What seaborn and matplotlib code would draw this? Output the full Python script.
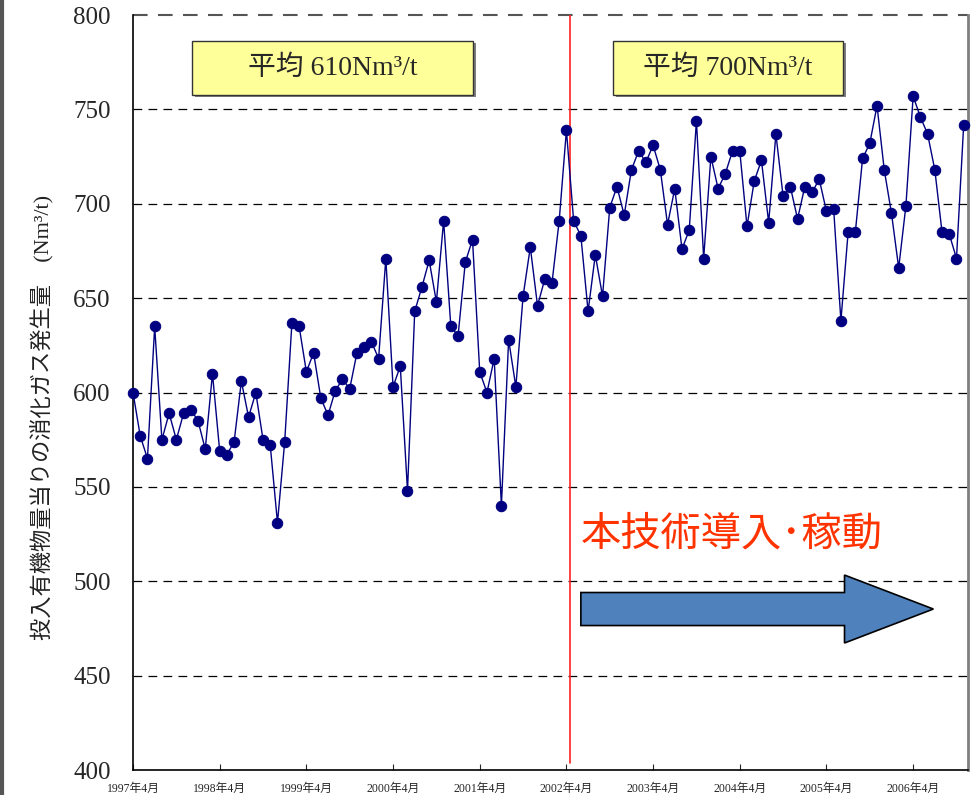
import numpy as np
import pandas as pd
import matplotlib
matplotlib.use("Agg")
import matplotlib.pyplot as plt
import matplotlib.patches as mpatches
from matplotlib.lines import Line2D
import seaborn as sns

# -----------------------------------------------------------------------------
# Data (monthly, 1997-04 .. 2006-11)
# -----------------------------------------------------------------------------
gas_per_organic = [
    600, 577, 565, 635, 575, 589, 575, 589, 591, 585, 570, 610,
    569, 567, 574, 606, 587, 600, 575, 572, 531, 574, 637, 635,
    611, 621, 597, 588, 601, 607, 602, 621, 624, 627, 618, 671,
    603, 614, 548, 643, 656, 670, 648, 691, 635, 630, 669, 681,
    611, 600, 618, 540, 628, 603, 651, 677, 646, 660, 658, 691,
    739, 691, 683, 643, 673, 651, 698, 709, 694, 718, 728, 722,
    731, 718, 689, 708, 676, 686, 744, 671, 725, 708, 716, 728,
    728, 688, 712, 723, 690, 737, 704, 709, 692, 709, 706, 713,
    696, 697, 638, 685, 685, 724, 732, 752, 718, 695, 666, 699,
    757, 746, 737, 718, 685, 684, 671, 742,
]
tick_labels = ["1997年4月", "1998年4月", "1999年4月", "2000年4月", "2001年4月",
               "2002年4月", "2003年4月", "2004年4月", "2005年4月", "2006年4月"]
y_ticks = [400, 450, 500, 550, 600, 650, 700, 750, 800]
avg_labels = ["平均 610Nm³/t", "平均 700Nm³/t"]
intro_label = "本技術導入･稼動"
y_label = "投入有機物量当りの消化ガス発生量　(Nm³/t)"

df = pd.DataFrame({"month": np.arange(len(gas_per_organic)),
                   "gas": gas_per_organic})

# -----------------------------------------------------------------------------
# Style
# -----------------------------------------------------------------------------
sns.set_theme(style="white")
plt.rcParams["font.family"] = ["Liberation Serif", "Noto Sans CJK JP", "DejaVu Sans"]

fig = plt.figure(figsize=(9.73, 7.95), dpi=100)
ax = fig.add_axes([0.1367, 0.0314, 0.8582, 0.9497])

sns.lineplot(
    x="month",
    y="gas",
    data=df,
    color="#000080",
    lw=1.0,
    marker="o",
    markersize=7.5,
    markeredgecolor="#000080",
    markerfacecolor="#000080",
    clip_on=False,
    zorder=4,
    ax=ax,
)

ax.set_xlim(0, 115.6)
ax.set_ylim(400, 800)
ax.set_yticks(y_ticks)
ax.set_yticklabels([str(v) for v in y_ticks], fontsize=18)
ax.set_xticks(np.arange(0, 12 * len(tick_labels), 12))
ax.set_xticklabels(tick_labels, fontsize=8.5)
ax.tick_params(axis="y", length=0, pad=16)
ax.tick_params(axis="x", direction="in", length=4, width=0.8, pad=9, bottom=True)

for yv in y_ticks[1:-1]:
    ax.axhline(yv, color="black", lw=0.9, ls=(0, (7, 5)), zorder=1)
ax.axhline(800, color="#555555", lw=1.5, ls=(0, (7, 5)), zorder=1, clip_on=False)

for s in ["left", "bottom"]:
    ax.spines[s].set_color("black")
    ax.spines[s].set_linewidth(1.2)
ax.spines["top"].set_visible(False)
ax.spines["right"].set_color("#808080")
ax.spines["right"].set_linewidth(2)

ax.set_xlabel("")
ax.set_ylabel(y_label, fontsize=16, color="#222222")
ax.yaxis.set_label_coords(-0.094, 0.4675)

# start of the new technology
ax.axvline(60.45, ymin=0.009, ymax=1, color="#FF2020", lw=1.2, zorder=3)

# average boxes
for x0, x1, txt in [(0.0707, 0.4072, avg_labels[0]), (0.5749, 0.8503, avg_labels[1])]:
    shadow = mpatches.Rectangle((x0 + 0.003, 0.894 - 0.003), x1 - x0, 0.0716,
                                transform=ax.transAxes, facecolor="#7f7f7f",
                                edgecolor="none", zorder=5)
    box = mpatches.Rectangle((x0, 0.894), x1 - x0, 0.0716, transform=ax.transAxes,
                             facecolor="#FFFF99", edgecolor="#333333", lw=1.0, zorder=6)
    ax.add_patch(shadow)
    ax.add_patch(box)
    ax.text((x0 + x1) / 2, 0.894 + 0.0358, txt, transform=ax.transAxes,
            ha="center", va="center", fontsize=20, zorder=7)

ax.text(62.0, 525, intro_label, ha="left", va="center", fontsize=29,
        color="#FF3300", family=["Noto Sans CJK JP", "DejaVu Sans"], zorder=7)

arrow = mpatches.FancyArrow(62.0, 485.3, 48.8, 0, width=17.5, head_width=36,
                            head_length=12.3, length_includes_head=True,
                            facecolor="#4F81BD", edgecolor="black", lw=1.2, zorder=6)
ax.add_patch(arrow)

# left frame edge
fig.add_artist(Line2D([2.0 / 973, 2.0 / 973], [0, 1], transform=fig.transFigure,
                      color="#555555", lw=3))

fig.savefig("out.png", dpi=100)
